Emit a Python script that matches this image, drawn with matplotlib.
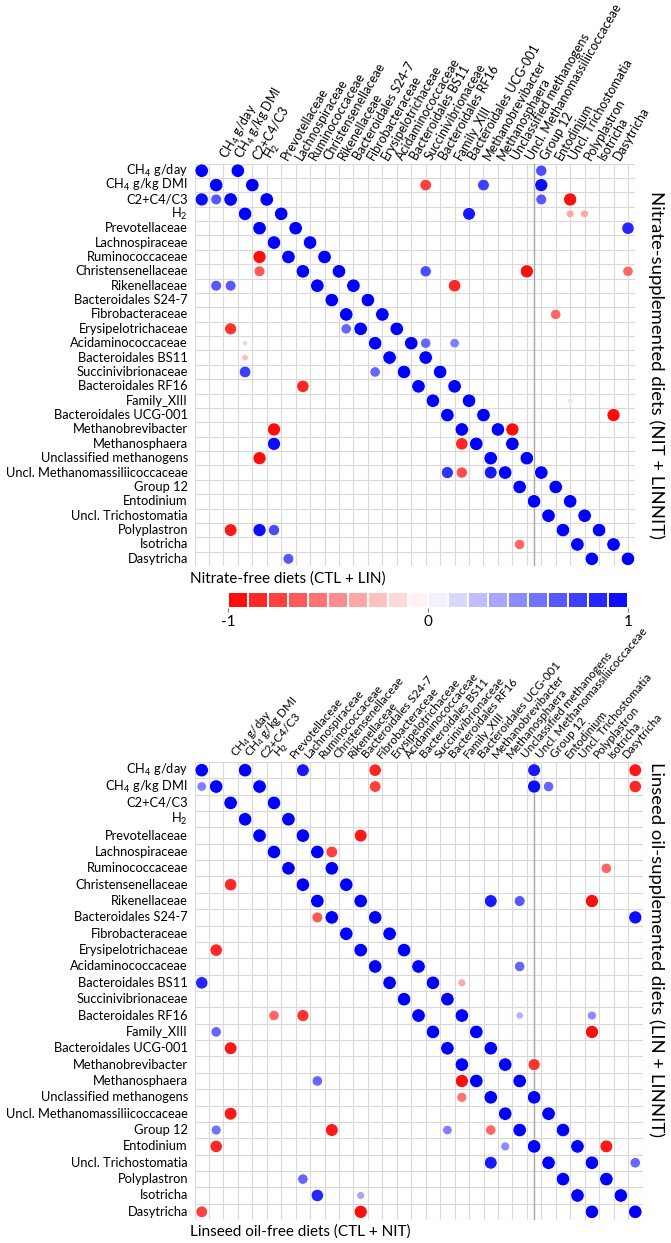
import numpy as np
import matplotlib.pyplot as plt
from matplotlib.colors import LinearSegmentedColormap

plt.rcParams['font.family'] = ['Lato', 'DejaVu Sans']
plt.rcParams['mathtext.fontset'] = 'custom'
plt.rcParams['mathtext.rm'] = 'Lato'
plt.rcParams['mathtext.it'] = 'Lato:italic'

variables = ['CH$_4$ g/day', 'CH$_4$ g/kg DMI', 'C2+C4/C3', 'H$_2$',
             'Prevotellaceae', 'Lachnospiraceae', 'Ruminococcaceae',
             'Christensenellaceae', 'Rikenellaceae', 'Bacteroidales S24-7',
             'Fibrobacteraceae', 'Erysipelotrichaceae', 'Acidaminococcaceae',
             'Bacteroidales BS11', 'Succinivibrionaceae', 'Bacteroidales RF16',
             'Family_XIII', 'Bacteroidales UCG-001', 'Methanobrevibacter',
             'Methanosphaera', 'Unclassified methanogens',
             'Uncl. Methanomassiliicoccaceae', 'Group 12', 'Entodinium',
             'Uncl. Trichostomatia', 'Polyplastron', 'Isotricha', 'Dasytricha']

# (row, col, r) significant correlations, off-diagonal
nitrate_free = [(2, 0, 0.95), (2, 1, 0.65), (6, 4, -0.95), (7, 4, -0.65),
                (8, 1, 0.65), (8, 2, 0.65), (11, 2, -0.8), (11, 10, 0.6),
                (12, 3, 0.15), (13, 3, -0.25), (14, 3, 0.75), (14, 12, 0.6),
                (15, 7, -0.85), (18, 5, -0.95), (19, 5, 0.95), (19, 18, -0.85),
                (20, 4, -0.95), (21, 17, 0.8), (21, 18, -0.7), (21, 20, 0.9),
                (25, 2, -0.9), (25, 4, 0.95), (25, 5, 0.7), (26, 22, -0.6),
                (27, 6, 0.65)]
nitrate_supp = [(0, 21, 0.7), (1, 13, -0.75), (1, 17, 0.75), (1, 21, 0.95),
                (2, 21, 0.65), (2, 23, -0.95), (3, 16, 0.9), (3, 23, -0.35),
                (3, 24, -0.35), (4, 27, 0.85), (7, 13, 0.7), (7, 20, -0.95),
                (7, 27, -0.6), (8, 15, -0.85), (10, 22, -0.6), (12, 13, 0.6),
                (12, 15, 0.5), (16, 23, -0.15), (17, 26, -0.95), (18, 19, -0.95)]

linseed_free = [(1, 0, 0.5), (7, 2, -0.85), (9, 8, -0.65), (11, 1, -0.85),
                (13, 0, 0.85), (15, 5, -0.6), (15, 7, -0.8), (16, 1, 0.6),
                (17, 2, -0.9), (19, 8, 0.6), (19, 18, -0.95), (20, 18, -0.55),
                (21, 2, -0.9), (22, 1, 0.55), (22, 9, -0.9), (22, 17, 0.5),
                (22, 20, -0.6), (23, 1, -0.85), (23, 21, 0.45), (24, 20, 0.9),
                (25, 7, 0.6), (26, 8, 0.85), (26, 11, 0.35), (27, 0, -0.75),
                (27, 11, -0.95)]
linseed_supp = [(0, 4, 0.9), (0, 9, -0.85), (0, 20, 0.9), (0, 27, -0.9),
                (1, 9, -0.75), (1, 20, 0.95), (1, 21, 0.6), (1, 27, -0.85),
                (4, 8, -0.9), (5, 6, -0.75), (6, 25, -0.6), (8, 17, 0.9),
                (8, 19, 0.65), (8, 24, -0.95), (9, 27, 0.95), (12, 19, 0.6),
                (13, 15, -0.35), (15, 19, 0.3), (15, 24, 0.45), (16, 24, -0.95),
                (18, 20, -0.8), (23, 25, -0.9), (24, 27, 0.6)]

cmap = LinearSegmentedColormap.from_list('rwb', ['#FF0000', '#FFFFFF', '#0000FF'])

W, H = 671, 1243
fig = plt.figure(figsize=(W / 100, H / 100), dpi=100)


def px_rect(x0, y0, x1, y1):
    return [x0 / W, 1 - y1 / H, (x1 - x0) / W, (y1 - y0) / H]


def panel(rect, offset, lower, upper, right_label, right_va, bottom_label,
          bottom_y, sep_x, col_size, col_rot):
    ax = fig.add_axes(rect)
    n = len(variables)
    xmax = n - 1 + offset + 0.5
    ax.set_xlim(-0.5, xmax)
    ax.set_ylim(n - 0.5, -0.5)
    for x in np.arange(-0.5, xmax + 0.01, 1):
        ax.axvline(x, color='#D9D9D9', lw=0.8, zorder=0)
    ax.axvline(xmax, color='#D9D9D9', lw=0.8, zorder=0)
    for y in np.arange(-0.5, n, 1):
        ax.axhline(y, color='#D9D9D9', lw=0.8, zorder=0)
    ax.axvline(sep_x, color='#A6A6A6', lw=1.0, zorder=0)
    for s in ax.spines.values():
        s.set_visible(False)
    ax.set_xticks([])
    ax.set_yticks([])

    xs, ys, rs = [], [], []
    for i in range(n):
        xs += [i, i + offset]
        ys += [i, i]
        rs += [1.0, 1.0]
    for row, col, r in lower:
        xs.append(col); ys.append(row); rs.append(r)
    for row, col, r in upper:
        xs.append(col + offset); ys.append(row); rs.append(r)
    rs = np.array(rs)
    ax.scatter(xs, ys, s=95 * np.abs(rs), c=rs, cmap=cmap, vmin=-1, vmax=1,
               edgecolors='white', linewidths=0.6, zorder=3, clip_on=False)

    for i, lab in enumerate(variables):
        ax.text(-0.95, i, lab, ha='right', va='center', fontsize=9.3)
        ax.text(i + offset - 0.45, -0.6, lab, rotation=col_rot, ha='left',
                va='bottom', rotation_mode='anchor', fontsize=col_size)

    pos = ax.get_position()
    if right_va == 'center':
        ry = pos.y0 + pos.height / 2
    else:
        ry = pos.y1
    fig.text(0.978, ry, right_label, rotation=-90, ha='center', va=right_va,
             fontsize=13.3)
    fig.text(190 / W, 1 - bottom_y / H, bottom_label, ha='left', va='center',
             fontsize=11)
    return ax


panel(px_rect(194.5, 163.5, 635.2, 566), 2.5, nitrate_free, nitrate_supp,
      'Nitrate-supplemented diets (NIT + LINNIT)', 'center',
      'Nitrate-free diets (CTL + LIN)', 579, 23.0, 9, 60)

# colour legend
cax = fig.add_axes(px_rect(228, 592, 628, 608))
edges = np.linspace(-1, 1, 21)
centers = (edges[:-1] + edges[1:]) / 2
cax.pcolormesh(edges, [0, 1], centers[np.newaxis, :], cmap=cmap, vmin=-1, vmax=1,
               edgecolors='white', linewidth=0.3)
cax.set_xlim(-1, 1)
cax.set_yticks([])
cax.set_xticks([-1, 0, 1])
cax.set_xticklabels(['-1', '0', '1'], fontsize=11)
cax.tick_params(axis='x', length=3, color='#7F7F7F', pad=2)
for s in cax.spines.values():
    s.set_visible(False)

panel(px_rect(194.5, 762, 642.5, 1220), 3, linseed_free, linseed_supp,
      'Linseed oil-supplemented diets (LIN + LINNIT)', 'top',
      'Linseed oil-free diets (CTL + NIT)', 1232, 23.0, 8.4, 50)

fig.savefig('out.png', dpi=100)
